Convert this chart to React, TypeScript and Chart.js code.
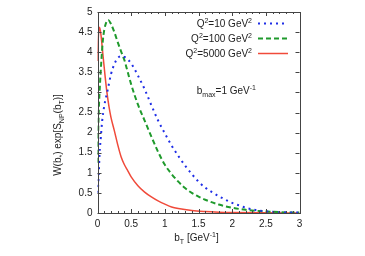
import React, { useEffect, useRef } from "react";
import { Chart, registerables } from "chart.js";

Chart.register(...registerables);

// Q^2 = 10 GeV^2 (blue dotted)
const bT10 = [0, 0.01, 0.02, 0.03, 0.05, 0.07, 0.1, 0.15, 0.2, 0.25, 0.3, 0.35, 0.4, 0.45, 0.5, 0.55, 0.6, 0.7, 0.8, 0.9, 1.0, 1.1, 1.2, 1.3, 1.4, 1.5, 1.6, 1.7, 1.8, 1.9, 2.0, 2.1, 2.2, 2.3, 2.4, 2.5, 2.6, 2.8, 3.0];
const w10 = [0.5, 0.7, 1.03, 1.45, 1.9, 2.3, 2.66, 3.05, 3.45, 3.7, 3.85, 3.9, 3.88, 3.82, 3.72, 3.58, 3.42, 3.08, 2.68, 2.3, 1.98, 1.68, 1.42, 1.18, 0.97, 0.78, 0.63, 0.52, 0.42, 0.33, 0.25, 0.19, 0.13, 0.09, 0.06, 0.04, 0.03, 0.015, 0.01];

// Q^2 = 100 GeV^2 (green dashed)
const bT100 = [0, 0.01, 0.02, 0.04, 0.06, 0.08, 0.1, 0.13, 0.16, 0.2, 0.25, 0.3, 0.35, 0.4, 0.45, 0.5, 0.6, 0.7, 0.8, 0.9, 1.0, 1.1, 1.2, 1.3, 1.4, 1.5, 1.6, 1.8, 2.0, 2.2, 2.4, 2.6, 2.8, 3.0];
const w100 = [1.25, 2.0, 2.6, 3.3, 3.85, 4.3, 4.55, 4.74, 4.8, 4.7, 4.5, 4.25, 4.02, 3.8, 3.5, 3.2, 2.7, 2.3, 1.9, 1.52, 1.2, 0.97, 0.78, 0.62, 0.5, 0.41, 0.33, 0.21, 0.13, 0.08, 0.05, 0.03, 0.015, 0.01];

// Q^2 = 5000 GeV^2 (red solid)
const bT5000 = [0, 0.01, 0.03, 0.05, 0.08, 0.11, 0.14, 0.17, 0.2, 0.25, 0.3, 0.35, 0.4, 0.45, 0.5, 0.6, 0.7, 0.8, 0.9, 1.0, 1.1, 1.2, 1.4, 1.6, 1.8, 2.0, 2.5, 3.0];
const w5000 = [3.78, 4.3, 4.62, 4.45, 3.95, 3.45, 3.0, 2.65, 2.38, 2.05, 1.7, 1.4, 1.2, 1.05, 0.9, 0.68, 0.52, 0.4, 0.3, 0.22, 0.15, 0.11, 0.06, 0.035, 0.02, 0.012, 0.004, 0.001];

const xTicks = [0, 0.5, 1, 1.5, 2, 2.5, 3];
const yTicks = [0, 0.5, 1, 1.5, 2, 2.5, 3, 3.5, 4, 4.5, 5];

const seriesLabels = ["10", "100", "5000"];
const colors = ["#1f2ee6", "#1f9a2c", "#f04a3a"];

const FONT = "Liberation Sans, Arial, sans-serif";

type Seg = { t: string; m?: "sub" | "sup" };

function segFont(s: Seg) {
  return (s.m ? "7px " : "10px ") + FONT;
}
function richWidth(ctx: CanvasRenderingContext2D, segs: Seg[]) {
  let w = 0;
  for (const s of segs) {
    ctx.font = segFont(s);
    w += ctx.measureText(s.t).width;
  }
  return w;
}
function drawRich(ctx: CanvasRenderingContext2D, segs: Seg[], x: number, y: number, align: "left" | "center" | "right") {
  const w = richWidth(ctx, segs);
  let cx = align === "left" ? x : align === "center" ? x - w / 2 : x - w;
  ctx.textAlign = "left";
  ctx.textBaseline = "alphabetic";
  for (const s of segs) {
    ctx.font = segFont(s);
    const dy = s.m === "sub" ? 3 : s.m === "sup" ? -4 : 0;
    ctx.fillText(s.t, cx, y + dy);
    cx += ctx.measureText(s.t).width;
  }
}

const decorPlugin = {
  id: "decor",
  afterDraw(chart: any) {
    const ctx: CanvasRenderingContext2D = chart.ctx;
    const a = chart.chartArea;
    const xs = chart.scales.x;
    const ys = chart.scales.y;
    ctx.save();
    ctx.strokeStyle = "#444";
    ctx.lineWidth = 1;
    ctx.strokeRect(Math.round(a.left) + 0.5, Math.round(a.top) + 0.5, Math.round(a.right - a.left), Math.round(a.bottom - a.top));
    ctx.beginPath();
    for (let i = 0; i <= 30; i++) {
      const v = i / 10;
      const px = Math.round(xs.getPixelForValue(v)) + 0.5;
      const len = i % 5 === 0 ? 4 : 2;
      ctx.moveTo(px, a.bottom);
      ctx.lineTo(px, a.bottom - len);
      ctx.moveTo(px, a.top);
      ctx.lineTo(px, a.top + len);
    }
    for (const v of yTicks) {
      const py = Math.round(ys.getPixelForValue(v)) + 0.5;
      ctx.moveTo(a.left, py);
      ctx.lineTo(a.left + 4, py);
      ctx.moveTo(a.right, py);
      ctx.lineTo(a.right - 4, py);
    }
    ctx.stroke();

    ctx.fillStyle = "#222";
    // x title
    drawRich(ctx, [{ t: "b" }, { t: "T", m: "sub" }, { t: " [GeV" }, { t: "-1", m: "sup" }, { t: "]" }], (a.left + a.right) / 2 - 2, 241, "center");
    // y title
    ctx.save();
    ctx.translate(61, 135);
    ctx.rotate(-Math.PI / 2);
    drawRich(
      ctx,
      [{ t: "W(b" }, { t: "*", m: "sub" }, { t: ") exp[S" }, { t: "NP", m: "sub" }, { t: "(b" }, { t: "T", m: "sub" }, { t: ")]" }],
      0,
      0,
      "center"
    );
    ctx.restore();

    // legend
    const rowsY = [23.5, 38.5, 53.5];
    const dashes = [[2, 4], [5, 3], []];
    const widths = [2, 2, 1.5];
    for (let i = 0; i < 3; i++) {
      ctx.fillStyle = "#222";
      drawRich(ctx, [{ t: "Q" }, { t: "2", m: "sup" }, { t: "=" + seriesLabels[i] + " GeV" }, { t: "2", m: "sup" }], 252, rowsY[i] + 3.5, "right");
      ctx.beginPath();
      ctx.strokeStyle = colors[i];
      ctx.lineWidth = widths[i];
      ctx.setLineDash(dashes[i]);
      ctx.moveTo(258, rowsY[i]);
      ctx.lineTo(288, rowsY[i]);
      ctx.stroke();
    }
    ctx.setLineDash([]);
    ctx.fillStyle = "#222";
    drawRich(ctx, [{ t: "b" }, { t: "max", m: "sub" }, { t: "=1 GeV" }, { t: "-1", m: "sup" }], 256, 94, "right");
    ctx.restore();
  },
};

function pts(xs: number[], ys: number[]) {
  return xs.map((x, i) => ({ x, y: ys[i] }));
}

export default function App() {
  const ref = useRef<HTMLCanvasElement | null>(null);
  useEffect(() => {
    if (!ref.current) return;
    const chart = new Chart(ref.current, {
      type: "line",
      data: {
        datasets: [
          {
            label: "Q2=10",
            data: pts(bT10, w10),
            borderColor: colors[0],
            borderWidth: 2,
            borderDash: [2, 4],
            pointRadius: 0,
            cubicInterpolationMode: "monotone",
          },
          {
            label: "Q2=100",
            data: pts(bT100, w100),
            borderColor: colors[1],
            borderWidth: 2,
            borderDash: [5, 3],
            pointRadius: 0,
            cubicInterpolationMode: "monotone",
          },
          {
            label: "Q2=5000",
            data: pts(bT5000, w5000),
            borderColor: colors[2],
            borderWidth: 1.5,
            pointRadius: 0,
            cubicInterpolationMode: "monotone",
          },
        ],
      },
      options: {
        responsive: false,
        animation: false,
        layout: { padding: { top: 12, right: 65.5, left: 0, bottom: 0 } },
        plugins: { legend: { display: false }, tooltip: { enabled: false } },
        scales: {
          x: {
            type: "linear",
            min: 0,
            max: 3,
            afterFit: (s: any) => {
              s.height = 43;
            },
            afterBuildTicks: (s: any) => {
              s.ticks = xTicks.map((v) => ({ value: v }));
            },
            ticks: { color: "#222", font: { family: FONT, size: 10 }, padding: 5, maxRotation: 0, callback: (v: any) => String(v) },
            grid: { display: false, drawTicks: false, tickLength: 0 },
            border: { display: false },
          },
          y: {
            type: "linear",
            min: 0,
            max: 5,
            afterFit: (s: any) => {
              s.width = 97.5;
            },
            afterBuildTicks: (s: any) => {
              s.ticks = yTicks.map((v) => ({ value: v }));
            },
            ticks: { color: "#222", font: { family: FONT, size: 10 }, padding: 5, callback: (v: any) => String(v) },
            grid: { display: false, drawTicks: false, tickLength: 0 },
            border: { display: false },
          },
        },
      },
      plugins: [decorPlugin],
    } as any);
    return () => chart.destroy();
  }, []);
  return (
    <div style={{ position: "fixed", left: 0, top: 0, width: 365, height: 256, background: "#fff" }}>
      <canvas ref={ref} width={365} height={256} style={{ width: 365, height: 256, display: "block" }} />
    </div>
  );
}
